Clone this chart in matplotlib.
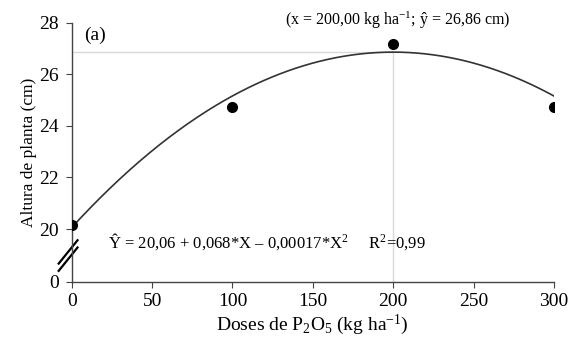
import numpy as np
import matplotlib
matplotlib.use("Agg")
import matplotlib.pyplot as plt

plt.rcParams['font.family'] = ['Liberation Serif', 'DejaVu Serif']
plt.rcParams['mathtext.fontset'] = 'custom'
plt.rcParams['mathtext.rm'] = 'Liberation Serif'
plt.rcParams['mathtext.it'] = 'Liberation Serif:italic'

# ---------------- Data ----------------
doses = [0, 100, 200, 300]
altura = [20.15, 24.74, 27.17, 24.75]

# fitted model shown on the chart
b0, b1, b2 = 20.06, 0.068, -0.00017
x_max = 200.0
y_max = 26.86

x_ticks = [0, 50, 100, 150, 200, 250, 300]
y_ticks = [20, 22, 24, 26, 28]

# axis break: "0" is drawn just below 20
y_bottom = 17.96

# ---------------- Plot ----------------
fig = plt.figure(figsize=(5.71, 3.42), dpi=100)
ax = fig.add_axes([0.1256, 0.1763, 0.8444, 0.7573])

xs = np.linspace(0, 300, 300)
ax.plot(xs, b0 + b1 * xs + b2 * xs**2, color='#333333', lw=1.2, zorder=2)
ax.plot(doses, altura, 'o', color='black', ms=7, zorder=3)

# guide lines to the maximum
ax.plot([0, x_max], [y_max, y_max], color='#d9d9d9', lw=1, zorder=1)
ax.plot([x_max, x_max], [y_bottom, y_max], color='#d9d9d9', lw=1, zorder=1)

ax.set_xlim(0, 300)
ax.set_ylim(y_bottom, 28)
ax.set_xticks(x_ticks)
ax.set_yticks([y_bottom] + y_ticks)
ax.set_yticklabels(['0'] + [str(t) for t in y_ticks])

for s in ['top', 'right']:
    ax.spines[s].set_visible(False)
for s in ['left', 'bottom']:
    ax.spines[s].set_color('#444444')
    ax.spines[s].set_linewidth(1.0)
ax.tick_params(axis='both', labelsize=14, length=4, color='#444444')
ax.tick_params(axis='y', pad=5)
ax.tick_params(axis='x', pad=4)

ax.set_xlabel('Doses de P$_2$O$_5$ (kg ha$^{-1}$)', fontsize=14, labelpad=2)
ax.set_ylabel('Altura de planta (cm)', fontsize=12.5, labelpad=2)

# break marks on the y axis
for dy in (0.0, 0.028):
    ax.plot([-0.027, 0.012], [0.07 - dy, 0.16 - dy], transform=ax.transAxes,
            color='black', lw=1.6, clip_on=False)

ax.text(0.025, 0.985, '(a)', transform=ax.transAxes, fontsize=14, va='top')
ax.text(0.677, 1.01, '(x = 200,00 kg ha$^{-1}$; ŷ = 26,86 cm)', transform=ax.transAxes,
        fontsize=11.5, ha='center', va='center')
ax.text(0.075, 0.155, 'Ŷ = 20,06 + 0,068*X – 0,00017*X$^{2}$     R$^{2}$=0,99',
        transform=ax.transAxes, fontsize=12, va='center')

fig.savefig('out.png', dpi=100)
